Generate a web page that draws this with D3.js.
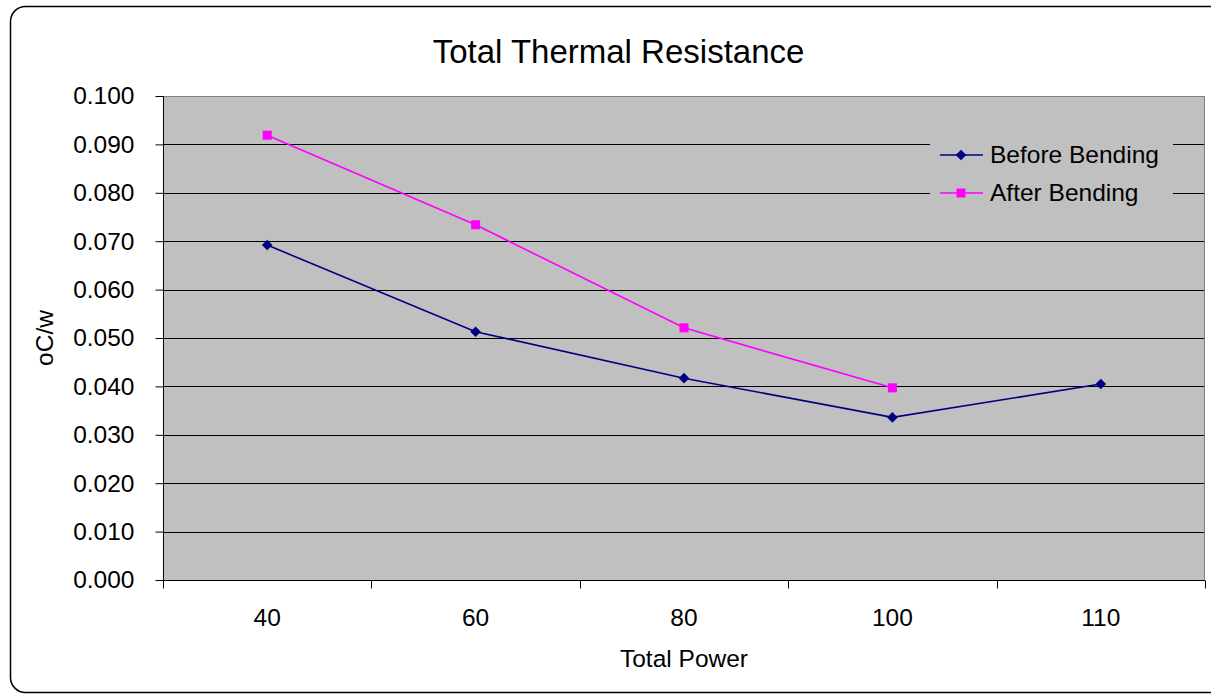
<!DOCTYPE html>
<html>
<head>
<meta charset="utf-8">
<script src="https://cdn.jsdelivr.net/npm/d3@7"></script>
<style>
  html, body { margin: 0; padding: 0; background: #fff; }
  svg { display: block; font-family: Arial, "Liberation Sans", sans-serif; }
</style>
</head>
<body>
<svg id="chart" width="1211" height="694"></svg>
<script>
const categories = ["40", "60", "80", "100", "110"];
const beforeBending = [0.0692, 0.0513, 0.0417, 0.0336, 0.0405];
const afterBending = [0.0919, 0.0734, 0.0521, 0.0397, null];
const yTicks = [0, 0.01, 0.02, 0.03, 0.04, 0.05, 0.06, 0.07, 0.08, 0.09, 0.1];
const seriesNames = ["Before Bending", "After Bending"];
const titleText = "Total Thermal Resistance";
const xTitle = "Total Power";
const yTitle = "oC/w";

const svg = d3.select("#chart");
const W = 1211, H = 694;
const plot = { left: 163, right: 1205, top: 96, bottom: 580 };

// outer rounded border
svg.append("rect")
  .attr("x", 10.5).attr("y", 6.5)
  .attr("width", 1216).attr("height", 686)
  .attr("rx", 15).attr("ry", 15)
  .attr("fill", "#fff").attr("stroke", "#000").attr("stroke-width", 1.5);

const x = d3.scaleBand().domain(categories).range([plot.left, plot.right]).padding(0);
const y = d3.scaleLinear().domain([0, 0.1]).range([plot.bottom, plot.top]);

// plot background
svg.append("rect")
  .attr("x", plot.left).attr("y", plot.top)
  .attr("width", plot.right - plot.left).attr("height", plot.bottom - plot.top)
  .attr("fill", "#C0C0C0");

// gridlines
svg.append("g").selectAll("line").data(yTicks.filter(d => d > 0 && d < 0.1)).join("line")
  .attr("x1", plot.left).attr("x2", plot.right)
  .attr("y1", d => Math.round(y(d)) + 0.5).attr("y2", d => Math.round(y(d)) + 0.5)
  .attr("stroke", "#000").attr("stroke-width", 1);

// top & right border (gray)
svg.append("path")
  .attr("d", `M${plot.left},${plot.top + 0.5}H${plot.right - 0.5}V${plot.bottom}`)
  .attr("fill", "none").attr("stroke", "#808080").attr("stroke-width", 1);

// legend box (covers gridlines)
const legend = svg.append("g");
legend.append("rect")
  .attr("x", 930).attr("y", 134).attr("width", 243).attr("height", 80)
  .attr("fill", "#C0C0C0");

// Y axis
const yAxis = d3.axisLeft(y).tickValues(yTicks).tickFormat(d3.format(".3f")).tickSize(8).tickPadding(21);
const gy = svg.append("g").attr("transform", `translate(${plot.left + 0.5},0)`).call(yAxis);
gy.select(".domain").attr("stroke", "#000").attr("d", `M0,${plot.top}V${plot.bottom}`);
gy.selectAll(".tick line").attr("stroke", "#000");
gy.selectAll(".tick text").attr("font-size", "24.5px").attr("fill", "#000")
  .attr("font-family", "Arial, 'Liberation Sans', sans-serif");

// X axis with ticks at band boundaries
const xAxisG = svg.append("g").attr("transform", `translate(0,${plot.bottom + 0.5})`);
xAxisG.append("line").attr("x1", plot.left).attr("x2", plot.right)
  .attr("stroke", "#000").attr("stroke-width", 1);
const boundaries = categories.map(c => x(c)).concat([x(categories[categories.length - 1]) + x.bandwidth()]);
xAxisG.selectAll("line.tk").data(boundaries).join("line").attr("class", "tk")
  .attr("x1", d => Math.round(d) + 0.5).attr("x2", d => Math.round(d) + 0.5)
  .attr("y1", 0).attr("y2", 8).attr("stroke", "#000");
xAxisG.selectAll("text").data(categories).join("text")
  .attr("x", d => x(d) + x.bandwidth() / 2)
  .attr("y", 45.5)
  .attr("text-anchor", "middle")
  .attr("font-size", "24.5px").attr("fill", "#000")
  .text(d => d);

// lines
const lineGen = d3.line()
  .defined(d => d.v != null)
  .x(d => x(d.c) + x.bandwidth() / 2)
  .y(d => y(d.v));
const seriesData = [
  { name: seriesNames[0], color: "#000080", vals: beforeBending, marker: "diamond" },
  { name: seriesNames[1], color: "#FF00FF", vals: afterBending, marker: "square" }
];
const diamond = (cx, cy, r) => `M${cx},${cy - r}L${cx + r},${cy}L${cx},${cy + r}L${cx - r},${cy}Z`;

seriesData.forEach(s => {
  const pts = categories.map((c, i) => ({ c, v: s.vals[i] }));
  svg.append("path").datum(pts)
    .attr("d", lineGen).attr("fill", "none")
    .attr("stroke", s.color).attr("stroke-width", 1.6);
  const g = svg.append("g");
  pts.filter(p => p.v != null).forEach(p => {
    const cx = x(p.c) + x.bandwidth() / 2, cy = y(p.v);
    if (s.marker === "diamond") {
      g.append("path").attr("d", diamond(cx, cy, 5.3)).attr("fill", s.color);
    } else {
      g.append("rect").attr("x", cx - 4.5).attr("y", cy - 4.5)
        .attr("width", 9).attr("height", 9).attr("fill", s.color);
    }
  });
});

// legend entries
seriesData.forEach((s, i) => {
  const ly = 155 + i * 38;
  legend.append("line").attr("x1", 940).attr("x2", 983).attr("y1", ly).attr("y2", ly)
    .attr("stroke", s.color).attr("stroke-width", 1.6);
  if (s.marker === "diamond") {
    legend.append("path").attr("d", diamond(961, ly, 5.3)).attr("fill", s.color);
  } else {
    legend.append("rect").attr("x", 961 - 4.5).attr("y", ly - 4.5)
      .attr("width", 9).attr("height", 9).attr("fill", s.color);
  }
  legend.append("text").attr("x", 990).attr("y", ly + 8)
    .attr("font-size", "24.5px").attr("fill", "#000").text(s.name);
});

// title
svg.append("text").attr("x", 618.5).attr("y", 63)
  .attr("text-anchor", "middle").attr("font-size", "33px").attr("fill", "#000")
  .text(titleText);

// axis titles
svg.append("text").attr("x", (plot.left + plot.right) / 2).attr("y", 667)
  .attr("text-anchor", "middle").attr("font-size", "24.5px").attr("fill", "#000")
  .text(xTitle);
svg.append("text")
  .attr("transform", `translate(53,${(plot.top + plot.bottom) / 2}) rotate(-90)`)
  .attr("text-anchor", "middle").attr("font-size", "24.5px").attr("fill", "#000")
  .text(yTitle);
</script>
</body>
</html>
